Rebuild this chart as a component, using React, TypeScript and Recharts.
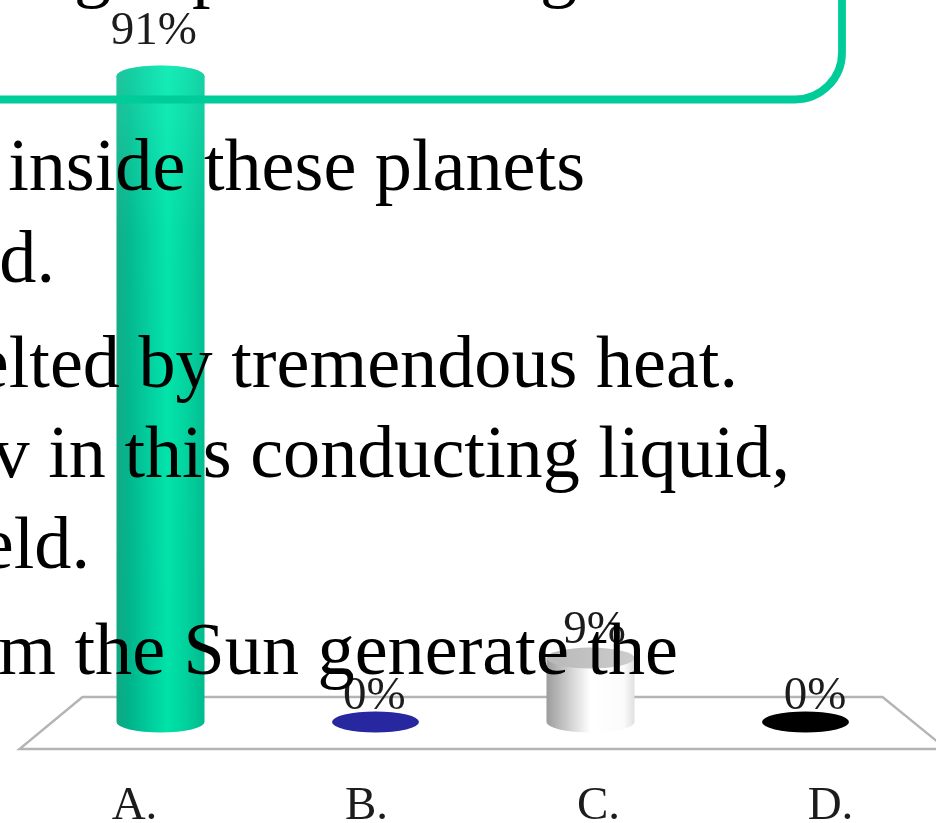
import React from 'react';
import { BarChart, Bar, Cell, LabelList, XAxis, YAxis, usePlotArea } from 'recharts';

const categories = ['A.', 'B.', 'C.', 'D.'];
const percents = [91, 0, 9, 0];
const seriesFills = ['url(#cylGreen)', '#27279f', 'url(#cylGrey)', '#000000'];
const capFills = ['url(#cylGreen)', '#27279f', 'url(#capGrey)', '#000000'];

// text of the slide sitting on top of the chart: [text, right edge, baseline]
const slideLines: [string, number, number][] = [
  ['inside these planets', 585, 190],
  ['d.', 55, 282],
  ['elted by tremendous heat.', 738, 387],
  ['v in this conducting liquid,', 790, 477],
  ['eld.', 90, 568],
  ['m the Sun generate the', 678, 674],
  ['g', 111, -7],
  ['p', 229, -7],
  ['g', 577, -7],
];

const rows = categories.map((name, i) => ({ name, value: percents[i] }));

const FONT = '"Liberation Serif", serif';
const RX = 44;
const RY = 10.5;

function Floor() {
  const plot = usePlotArea();
  if (!plot) return null;
  const base = plot.y + plot.height;
  const back = base - 25;
  const front = base + 27;
  const d = `M${plot.x + 30} ${back} H${plot.x + plot.width - 30} L${plot.x + plot.width + 34} ${front} H${plot.x - 33} Z`;
  return <path d={d} fill="#fff" stroke="#b4b4b4" strokeWidth={2.4} />;
}

function Cylinder(props: any) {
  const { x, y, width, height, index } = props;
  const cx = x + width / 2;
  const top = y;
  const bottom = y + height;
  if (height < 1) {
    return <ellipse cx={cx} cy={bottom} rx={RX - 0.5} ry={RY} fill={seriesFills[index]} />;
  }
  const d = `M${cx - RX} ${top} V${bottom} A${RX} ${RY} 0 0 0 ${cx + RX} ${bottom} V${top} Z`;
  const whole = `M${cx - RX} ${top} A${RX} ${RY} 0 0 1 ${cx + RX} ${top} V${bottom} A${RX} ${RY} 0 0 1 ${cx - RX} ${bottom} Z`;
  return (
    <g>
      <path d={d} fill={seriesFills[index]} />
      <ellipse cx={cx} cy={top} rx={RX} ry={RY} fill={capFills[index]} />
      {height > 200 && <path d={whole} fill="url(#topSheen)" />}
    </g>
  );
}

// labels fan out and lift with the perspective of the floor
function ValueLabel(props: any) {
  const { x, y, width, value, index } = props;
  const dx = 1.5 + 5.4 * (index - 1.5);
  return (
    <text
      x={x + width / 2 + dx}
      y={y - 13 - 0.21 * value}
      textAnchor="middle"
      fontFamily={FONT}
      fontSize={47}
      fill="#1c1c1c"
    >
      {value}%
    </text>
  );
}

function CategoryTick(props: any) {
  const { x, payload, index } = props;
  const dx = 0 + 17 * (index - 1.5);
  return (
    <text x={x + dx} y={819} textAnchor="middle" fontFamily={FONT} fontSize={47} fill="#1c1c1c">
      {payload.value}
    </text>
  );
}

export default function App() {
  return (
    <div
      style={{
        position: 'absolute',
        left: 0,
        top: 0,
        width: 936,
        height: 823,
        overflow: 'hidden',
        background: '#fff',
      }}
    >
      <div style={{ filter: 'blur(0.6px)' }}>
        <BarChart
          width={936}
          height={823}
          data={rows}
          margin={{ top: 12, right: 23.5, bottom: 0, left: 52.5 }}
          barSize={88}
        >
          <defs>
            <linearGradient id="cylGreen" x1="0" x2="1" y1="0" y2="0">
              <stop offset="0" stopColor="#12a683" />
              <stop offset="0.15" stopColor="#00b48a" />
              <stop offset="0.4" stopColor="#00cf9e" />
              <stop offset="0.58" stopColor="#00e2a8" />
              <stop offset="0.8" stopColor="#00d09c" />
              <stop offset="1" stopColor="#00ba8e" />
            </linearGradient>
            <linearGradient id="topSheen" x1="0" x2="0" y1="0" y2="1">
              <stop offset="0" stopColor="#40ffd0" stopOpacity={0.35} />
              <stop offset="0.25" stopColor="#40ffd0" stopOpacity={0.08} />
              <stop offset="1" stopColor="#40ffd0" stopOpacity={0} />
            </linearGradient>
            <linearGradient id="cylGrey" x1="0" x2="1" y1="0" y2="0">
              <stop offset="0" stopColor="#9c9c9c" />
              <stop offset="0.3" stopColor="#d8d8d8" />
              <stop offset="0.5" stopColor="#ffffff" />
              <stop offset="0.88" stopColor="#fbfbfb" />
              <stop offset="1" stopColor="#e0e0e0" />
            </linearGradient>
            <linearGradient id="capGrey" x1="0" x2="1" y1="0" y2="0">
              <stop offset="0" stopColor="#b8b8b8" />
              <stop offset="1" stopColor="#cdcdcd" />
            </linearGradient>
          </defs>
          <Floor />
          <XAxis
            dataKey="name"
            height={101}
            axisLine={false}
            tickLine={false}
            interval={0}
            tick={<CategoryTick />}
          />
          <YAxis hide domain={[0, 100]} />
          <Bar dataKey="value" isAnimationActive={false} shape={<Cylinder />}>
            {rows.map((row, i) => (
              <Cell key={row.name} fill={seriesFills[i]} />
            ))}
            <LabelList dataKey="value" content={<ValueLabel />} />
          </Bar>
        </BarChart>
      </div>
      <svg
        width={936}
        height={823}
        style={{ position: 'absolute', left: 0, top: 0, pointerEvents: 'none', filter: 'blur(0.4px)' }}
      >
        <path
          d="M842 -60 V52 A47 47 0 0 1 795 99.5 H-20"
          fill="none"
          stroke="#00cc99"
          strokeWidth={7.8}
        />
        {slideLines.map(([line, right, baseline], i) => (
          <text
            key={i}
            x={right}
            y={baseline}
            textAnchor="end"
            fontFamily={FONT}
            fontSize={74.2}
            fill="#000"
          >
            {line}
          </text>
        ))}
      </svg>
    </div>
  );
}
